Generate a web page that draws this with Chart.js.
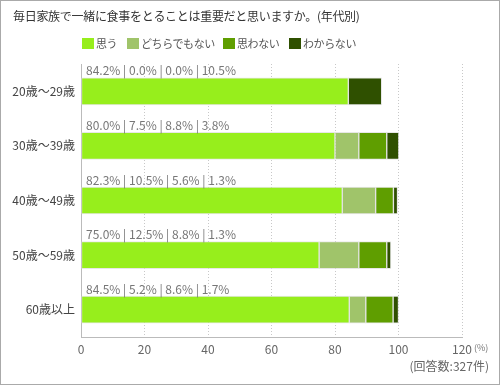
<!DOCTYPE html>
<html>
<head>
<meta charset="utf-8">
<script src="https://cdn.jsdelivr.net/npm/chart.js@4"></script>
<style>
  html, body { margin: 0; padding: 0; background: #fff; }
  #wrap {
    position: relative; width: 500px; height: 385px; box-sizing: border-box;
    border: 1px solid #aaa; font-family: "Noto Sans CJK JP", sans-serif; overflow: hidden;
  }
  #chart { position: absolute; left: 0; top: 0; }
  .title { position: absolute; left: 12px; top: 6px; font-size: 12px; color: #333; letter-spacing: -0.3px; }
  #legend { position: absolute; left: 0; top: 34px; font-size: 11px; color: #555; }
  #legend span.item { position: absolute; top: 0; display: flex; align-items: center; white-space: nowrap; letter-spacing: -0.4px; }
  #legend span.box { display: inline-block; width: 12px; height: 11px; margin-right: 2px; }
  .unit { position: absolute; left: 473px; top: 340px; font-size: 9px; color: #777; }
  .note { position: absolute; right: 10px; top: 356px; font-size: 12px; color: #666; }
</style>
</head>
<body>
<div id="wrap">
  <canvas id="chart" width="498" height="383"></canvas>
  <div class="title">毎日家族で一緒に食事をとることは重要だと思いますか。(年代別)</div>
  <div id="legend"></div>
  <div class="unit">(%)</div>
  <div class="note">(回答数:327件)</div>
</div>
<script>
const categories = ["20歳〜29歳", "30歳〜39歳", "40歳〜49歳", "50歳〜59歳", "60歳以上"];
const seriesNames = ["思う", "どちらでもない", "思わない", "わからない"];
const colors = ["#97ee1c", "#a0c46a", "#5f9e00", "#2f5000"];
const omou = [84.2, 80.0, 82.3, 75.0, 84.5];
const dochira = [0.0, 7.5, 10.5, 12.5, 5.2];
const omowanai = [0.0, 8.8, 5.6, 8.8, 8.6];
const wakaranai = [10.5, 3.8, 1.3, 1.3, 1.7];
const xTicks = [0, 20, 40, 60, 80, 100, 120];

const seriesValues = [omou, dochira, omowanai, wakaranai];

// legend, items placed like the original
const legendX = [81, 126, 222, 288];
const legend = document.getElementById("legend");
seriesNames.forEach((name, i) => {
  const item = document.createElement("span");
  item.className = "item";
  item.style.left = legendX[i] + "px";
  item.innerHTML = `<span class="box" style="background:${colors[i]}"></span>${name}`;
  legend.appendChild(item);
});

// percentage labels above each bar
const barLabels = {
  id: "barLabels",
  afterDatasetsDraw(chart) {
    const ctx = chart.ctx;
    const meta = chart.getDatasetMeta(0);
    ctx.save();
    ctx.font = "12px 'Noto Sans CJK JP', sans-serif";
    ctx.fillStyle = "#777";
    ctx.textBaseline = "bottom";
    ctx.textAlign = "left";
    categories.forEach((c, i) => {
      const bar = meta.data[i];
      const top = bar.y - bar.height / 2;
      const txt = seriesValues.map((s) => s[i].toFixed(1) + "%").join(" | ");
      ctx.fillText(txt, chart.chartArea.left + 5, top - 1);
    });
    ctx.restore();
  },
};

const ctx = document.getElementById("chart").getContext("2d");
new Chart(ctx, {
  type: "bar",
  data: {
    labels: categories,
    datasets: seriesNames.map((name, i) => ({
      label: name,
      data: seriesValues[i],
      backgroundColor: colors[i],
      borderColor: "rgba(215,215,215,0.6)",
      borderWidth: 1,
      borderSkipped: false,
      barThickness: 27,
    })),
  },
  options: {
    indexAxis: "y",
    responsive: false,
    animation: false,
    layout: { padding: { top: 63, right: 37, left: 0, bottom: 0 } },
    plugins: { legend: { display: false }, tooltip: { enabled: false } },
    scales: {
      x: {
        stacked: true,
        min: 0,
        max: 120,
        afterBuildTicks(scale) {
          scale.ticks = xTicks.map((v) => ({ value: v }));
        },
        afterFit(scale) { scale.height = 47; },
        grid: { color: "#c8c8c8", drawTicks: false },
        border: { color: "#bbb", dash: [1, 2] },
        ticks: {
          padding: 5,
          color: "#666",
          font: { family: "'Noto Sans CJK JP', sans-serif", size: 12 },
        },
      },
      y: {
        stacked: true,
        afterFit(scale) { scale.width = 80; },
        grid: { display: false, drawTicks: false },
        border: { color: "#bbb" },
        ticks: {
          padding: 6,
          color: "#444",
          font: { family: "'Noto Sans CJK JP', sans-serif", size: 12 },
        },
      },
    },
  },
  plugins: [barLabels],
});
</script>
</body>
</html>
